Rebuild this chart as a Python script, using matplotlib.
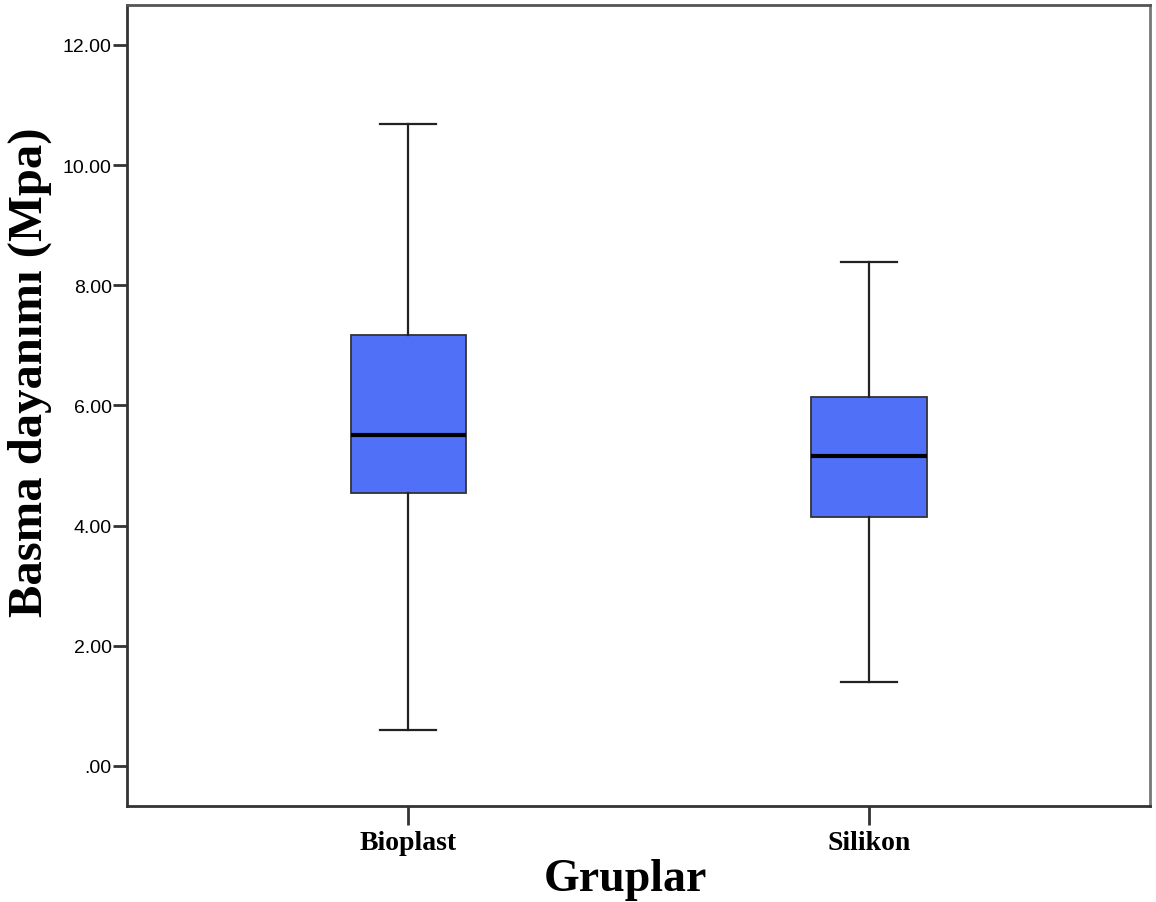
import matplotlib
matplotlib.use('Agg')
import matplotlib.pyplot as plt

# Group names and box statistics (Mpa)
groups = ['Bioplast', 'Silikon']
whisker_low = [0.60, 1.40]
q1 = [4.54, 4.14]
median = [5.51, 5.16]
q3 = [7.17, 6.14]
whisker_high = [10.69, 8.39]

y_ticks = [0, 2, 4, 6, 8, 10, 12]
y_tick_labels = ['.00', '2.00', '4.00', '6.00', '8.00', '10.00', '12.00']

stats = []
for i, name in enumerate(groups):
    stats.append({
        'label': name,
        'whislo': whisker_low[i],
        'q1': q1[i],
        'med': median[i],
        'q3': q3[i],
        'whishi': whisker_high[i],
        'fliers': [],
    })

fig = plt.figure(figsize=(11.56, 9.03), dpi=100)
ax = fig.add_axes([0.1099, 0.1063, 0.8849, 0.8871])

ax.bxp(stats, positions=[1, 2], widths=0.25, patch_artist=True,
       showfliers=False,
       boxprops=dict(facecolor='#5070F8', edgecolor='#333333', linewidth=1.3),
       medianprops=dict(color='black', linewidth=3),
       whiskerprops=dict(color='#222222', linewidth=1.6),
       capprops=dict(color='#222222', linewidth=1.6),
       capwidths=0.122)

ax.set_xlim(0.39, 2.61)
ax.set_ylim(-0.666, 12.666)
ax.set_yticks(y_ticks)
ax.set_yticklabels(y_tick_labels, fontname='Liberation Sans', fontsize=14)
ax.set_xticks([1, 2])
ax.set_xticklabels(groups, fontname='Liberation Serif', fontweight='bold', fontsize=20)

ax.tick_params(axis='y', direction='out', length=10, width=2, color='#333333', pad=1)
ax.tick_params(axis='x', direction='out', length=14, width=2, color='#333333', pad=3)

for side in ['left', 'bottom', 'top', 'right']:
    ax.spines[side].set_linewidth(2)
    ax.spines[side].set_color('#333333')
ax.spines['right'].set_color('#777777')
ax.spines['top'].set_color('#555555')

ax.set_xlabel('Gruplar', fontname='Liberation Serif', fontweight='bold', fontsize=33, va='center')
ax.xaxis.set_label_coords(0.487, -0.091)
ax.set_ylabel('Basma dayanımı (Mpa)', fontname='Liberation Serif', fontweight='bold', fontsize=35, va='center')
ax.yaxis.set_label_coords(-0.095, 0.543)

fig.savefig('out.png', dpi=100)
